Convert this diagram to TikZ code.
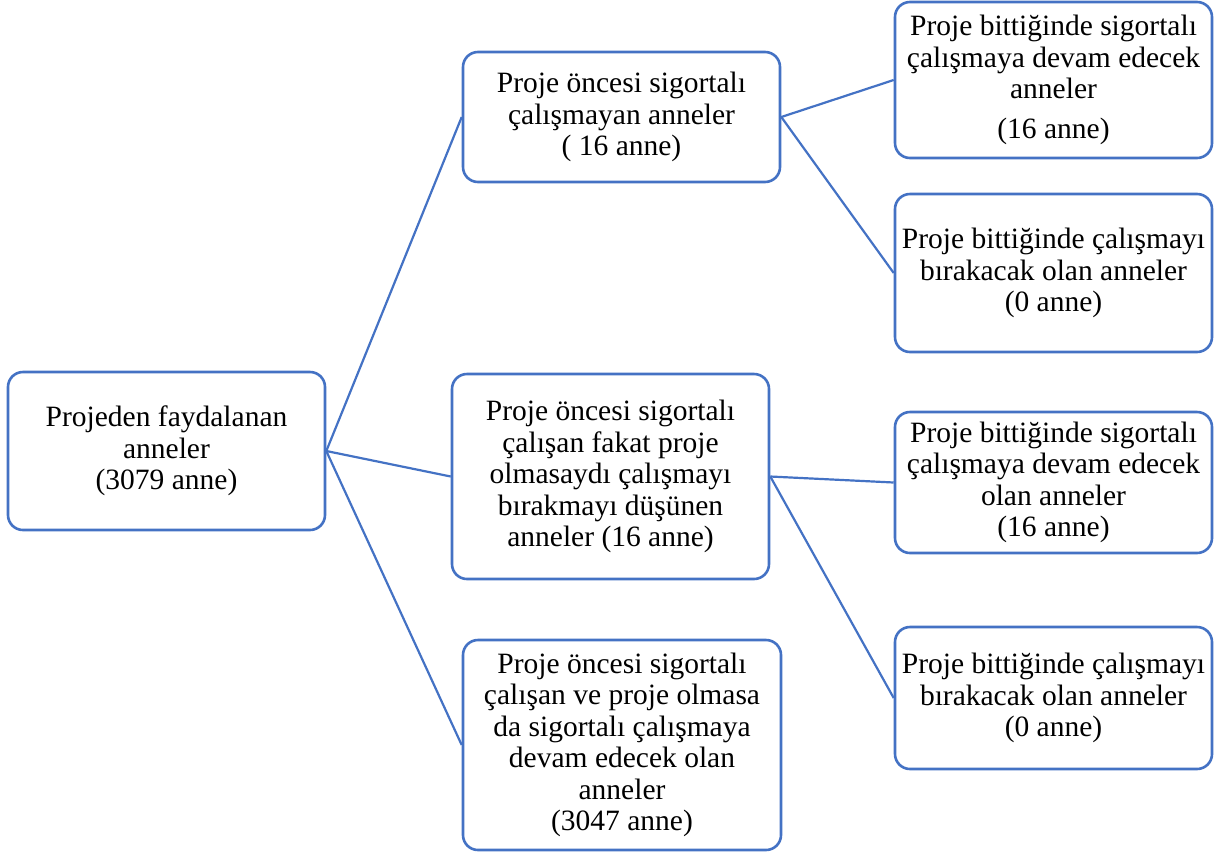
\documentclass[tikz,border=0pt]{standalone}
\usepackage{fontspec}
\setmainfont{Liberation Serif}
\definecolor{boxblue}{HTML}{4472C4}
\begin{document}
\begin{tikzpicture}[x=1pt,y=-1pt,
  box/.style={draw=boxblue, line width=2.6pt, rounded corners=15pt, fill=white,
    align=center, inner sep=0pt, font=\fontsize{29.5}{31.5}\selectfont},
  link/.style={draw=boxblue, line width=2.2pt}]
\useasboundingbox (0,0) rectangle (1217,855);
% boxes: centre, width, height
\node[box, minimum width=317pt, minimum height=158pt] (root) at (166.5,451)
  {Projeden faydalanan\\anneler\\(3079 anne)};
\node[box, minimum width=317pt, minimum height=130pt] (b1) at (621.5,117)
  {Proje öncesi sigortalı\\çalışmayan anneler\\( 16 anne)};
\node[box, minimum width=317pt, minimum height=205pt] (b2) at (610.5,476.5)
  {Proje öncesi sigortalı\\çalışan fakat proje\\olmasaydı çalışmayı\\bırakmayı düşünen\\anneler (16 anne)};
\node[box, minimum width=318pt, minimum height=210pt] (b3) at (622,745)
  {Proje öncesi sigortalı\\çalışan ve proje olmasa\\da sigortalı çalışmaya\\devam edecek olan\\anneler\\(3047 anne)};
\node[box, minimum width=317pt, minimum height=156pt] (c1) at (1053.5,80)
  {Proje bittiğinde sigortalı\\çalışmaya devam edecek\\anneler\\[8pt](16 anne)};
\node[box, minimum width=317pt, minimum height=158pt] (c2) at (1053.5,273)
  {Proje bittiğinde çalışmayı\\bırakacak olan anneler\\(0 anne)};
\node[box, minimum width=317pt, minimum height=141pt] (c3) at (1053.5,482.5)
  {Proje bittiğinde sigortalı\\çalışmaya devam edecek\\olan anneler\\(16 anne)};
\node[box, minimum width=317pt, minimum height=142pt] (c4) at (1053.5,698)
  {Proje bittiğinde çalışmayı\\bırakacak olan anneler\\(0 anne)};
% connectors
\draw[link] (root.east) -- (b1.west);
\draw[link] (root.east) -- (b2.west);
\draw[link] (root.east) -- (b3.west);
\draw[link] (b1.east) -- (c1.west);
\draw[link] (b1.east) -- (c2.west);
\draw[link] (b2.east) -- (c3.west);
\draw[link] (b2.east) -- (c4.west);
\end{tikzpicture}
\end{document}
